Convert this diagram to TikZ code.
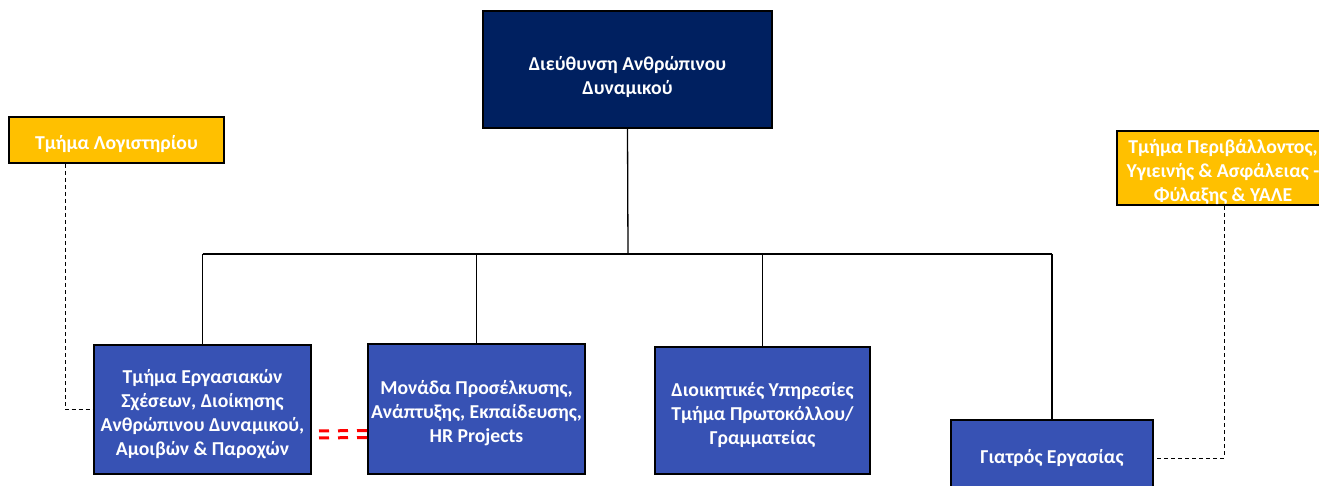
\documentclass[tikz,border=0pt]{standalone}
\usepackage{fontspec}
\setmainfont{Carlito}
\usetikzlibrary{math}

\definecolor{navy}{HTML}{002060}
\definecolor{unitblue}{RGB}{55,82,180}
\definecolor{gold}{HTML}{FFC000}

% invisible strut, pushes the text a little down in its box
\newcommand{\lift}[1][23pt]{\rule{0pt}{#1}}

\tikzset{
  box/.style={draw=black, line width=2pt, text=white, align=center, inner sep=0pt,
    font=\bfseries\fontsize{19.7}{24}\selectfont},
  head/.style={box, fill=navy},
  unit/.style={box, fill=unitblue},
  staff/.style={box, fill=gold},
  tree/.style={line width=1.3pt, draw=black},
  link/.style={line width=1pt, dash pattern=on 4pt off 3pt},
  twin/.style={line width=3pt, red, dash pattern=on 10pt off 9pt, dash phase=12pt}
}

\begin{document}
\begin{tikzpicture}[x=1pt, y=-1pt]

\tikzmath{
\busy = 254;
\width = 1319;
\height = 486;
}

\useasboundingbox (0,0) rectangle (\width,\height);
\clip (0,0) rectangle (\width,\height);

\node[head, minimum width=289pt, minimum height=117pt] (hr) at (627.5,69.5)
  {\lift[29pt]Διεύθυνση Ανθρώπινου\\Δυναμικού};

\node[staff, minimum width=215pt, minimum height=46pt] (accounts) at (116.5,140)
  {\lift Τμήμα Λογιστηρίου};
\node[staff, minimum width=212pt, minimum height=70pt] (safety) at (1223,168)
  {\lift Τμήμα Περιβάλλοντος,\\Υγιεινής \& Ασφάλειας -\\Φύλαξης \& ΥΑΛΕ};

\node[unit, minimum width=217pt, minimum height=129pt] (labour) at (202.5,409.5)
  {\lift Τμήμα Εργασιακών\\Σχέσεων, Διοίκησης\\Ανθρώπινου Δυναμικού,\\Αμοιβών \& Παροχών};
\node[unit, minimum width=217pt, minimum height=130pt] (talent) at (476.5,409)
  {\lift Μονάδα Προσέλκυσης,\\Ανάπτυξης, Εκπαίδευσης,\\HR Projects};
\node[unit, minimum width=215pt, minimum height=127pt] (admin) at (762.5,410.5)
  {\lift Διοικητικές Υπηρεσίες\\Τμήμα Πρωτοκόλλου/\\Γραμματείας};
\node[unit, minimum width=202pt, minimum height=76pt] (doctor) at (1052,458)
  {Γιατρός Εργασίας};

\coordinate (bus) at (628,\busy);
\draw[tree] (hr.south) -- (bus);
\draw[tree] (labour.north |- bus) -- (doctor.north |- bus);
\foreach \n in {labour, talent, admin, doctor}
    \draw[tree] (\n.north |- bus) -- (\n.north);

\draw[link] ([xshift=-51.5pt]accounts.south) |- (labour.west);
\draw[link] ([xshift=1pt]safety.south) |- (doctor.east);

\draw[twin] ([yshift=-21.5pt]labour.east) -- ([yshift=-21.5pt]talent.west);
\draw[twin] ([yshift=-28.5pt]labour.east) -- ([yshift=-28.5pt]talent.west);

\end{tikzpicture}
\end{document}
